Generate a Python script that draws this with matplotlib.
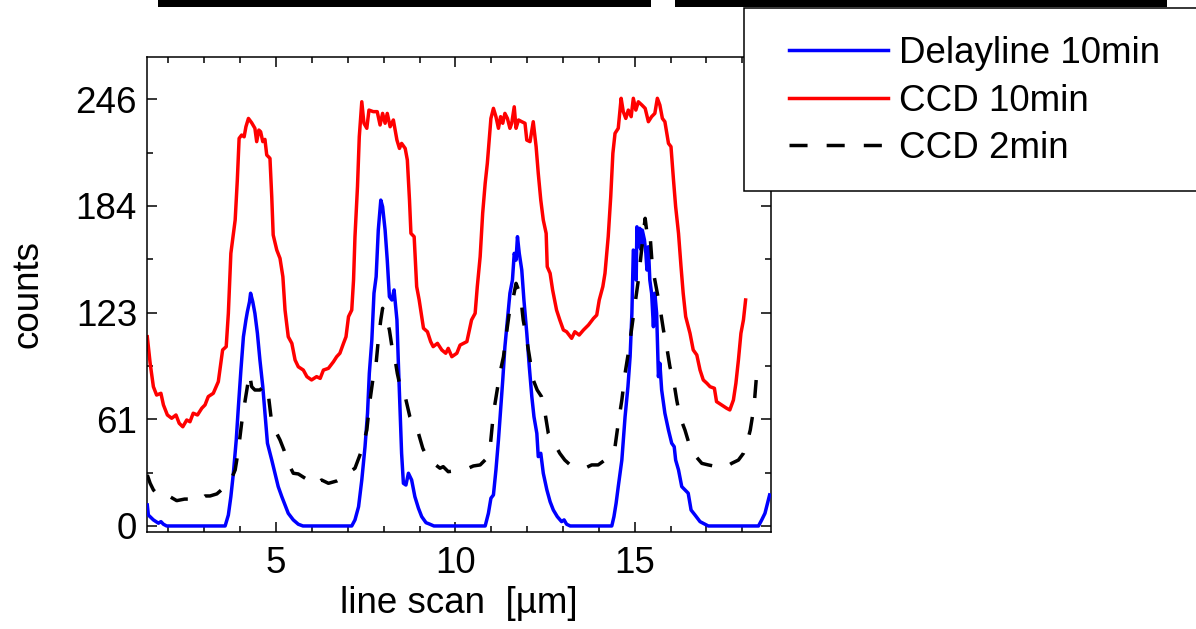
import matplotlib
matplotlib.use('Agg')
import matplotlib.pyplot as plt
from matplotlib.patches import Rectangle
from matplotlib.ticker import FixedLocator, FixedFormatter, MultipleLocator


# line scan position [um] and counts
red_x = [1.41, 1.49, 1.58, 1.67, 1.79, 1.86, 1.97, 2.09, 2.21, 2.30, 2.40, 2.51, 2.60, 2.69, 2.81,
         2.93, 3.02, 3.11, 3.25, 3.39, 3.51, 3.61, 3.67, 3.74, 3.86, 3.92, 3.97, 4.04, 4.11, 4.16,
         4.23, 4.32, 4.41, 4.46, 4.52, 4.57, 4.63, 4.69, 4.74, 4.83, 4.88, 4.92, 5.02, 5.11, 5.19,
         5.25, 5.34, 5.44, 5.53, 5.62, 5.76, 5.86, 5.99, 6.13, 6.23, 6.32, 6.46, 6.60, 6.69, 6.78,
         6.88, 6.95, 7.02, 7.11, 7.16, 7.20, 7.27, 7.32, 7.39, 7.45, 7.53, 7.59, 7.71, 7.82, 7.90,
         7.97, 8.04, 8.10, 8.18, 8.27, 8.37, 8.44, 8.50, 8.60, 8.66, 8.72, 8.76, 8.85, 8.92, 8.99,
         9.11, 9.22, 9.31, 9.38, 9.50, 9.62, 9.73, 9.80, 9.90, 10.04, 10.13, 10.32, 10.39, 10.45,
         10.55, 10.61, 10.69, 10.76, 10.83, 10.89, 10.95, 10.99, 11.06, 11.13, 11.20, 11.26, 11.32,
         11.38, 11.45, 11.52, 11.57, 11.64, 11.69, 11.76, 11.85, 11.94, 11.99, 12.08, 12.17, 12.25,
         12.31, 12.38, 12.45, 12.53, 12.56, 12.64, 12.71, 12.82, 12.91, 13.01, 13.10, 13.24, 13.33,
         13.45, 13.57, 13.71, 13.85, 13.94, 14.01, 14.11, 14.17, 14.26, 14.33, 14.39, 14.45, 14.54,
         14.62, 14.68, 14.75, 14.82, 14.90, 14.96, 15.03, 15.10, 15.20, 15.29, 15.38, 15.47, 15.56,
         15.63, 15.70, 15.77, 15.84, 15.94, 16.01, 16.08, 16.14, 16.22, 16.29, 16.35, 16.42, 16.54,
         16.63, 16.73, 16.82, 16.91, 17.01, 17.10, 17.22, 17.28, 17.42, 17.56, 17.65, 17.75, 17.82,
         17.89, 17.96, 18.03, 18.09]
red_y = [109.1, 93.8, 80.3, 75.5, 76.5, 69.8, 64.0, 62.1, 64.0, 59.2, 57.2, 61.1, 60.1, 65.0, 64.0,
         67.9, 69.8, 74.6, 76.5, 83.2, 101.5, 103.4, 122.6, 157.2, 176.4, 199.5, 223.5, 225.4, 224.4,
         230.2, 235.0, 232.5, 229.3, 221.6, 228.3, 227.3, 221.6, 222.9, 213.9, 212.0, 189.8, 167.8,
         159.1, 154.3, 143.7, 124.5, 109.1, 105.3, 95.7, 91.8, 89.9, 86.1, 84.2, 86.1, 85.1, 89.9,
         90.9, 94.7, 97.6, 99.6, 105.3, 109.1, 120.7, 124.5, 141.8, 166.8, 195.6, 224.4, 244.6,
         232.2, 229.3, 239.8, 238.9, 238.9, 231.2, 237.9, 232.2, 237.9, 230.2, 234.1, 222.5, 217.7,
         220.6, 217.7, 211.0, 187.9, 168.7, 166.8, 138.0, 130.3, 114.0, 112.0, 106.3, 103.4, 105.3,
         101.5, 99.6, 102.4, 97.6, 99.6, 104.3, 106.3, 113.0, 118.8, 122.6, 138.0, 155.3, 180.3,
         197.6, 209.1, 224.4, 235.0, 240.8, 236.0, 229.3, 236.0, 232.2, 237.9, 235.0, 229.3, 232.2,
         241.7, 229.3, 234.1, 233.1, 232.2, 222.5, 221.6, 233.1, 218.7, 203.3, 187.9, 176.4, 168.7,
         149.5, 145.7, 136.1, 124.5, 118.8, 113.0, 112.0, 108.2, 112.0, 110.1, 113.0, 115.9, 119.7,
         121.6, 130.3, 138.0, 145.7, 166.8, 189.8, 214.9, 226.4, 229.3, 246.6, 238.9, 235.0, 239.8,
         236.0, 246.6, 239.8, 244.6, 242.7, 240.8, 233.1, 236.0, 237.9, 246.6, 242.7, 235.0, 233.1,
         220.6, 218.7, 199.5, 184.1, 168.7, 149.5, 134.2, 120.7, 111.1, 101.5, 98.6, 89.9, 84.2,
         82.3, 80.3, 79.4, 71.7, 69.8, 67.9, 66.9, 72.6, 82.3, 95.7, 111.1, 118.8, 130.3]

blue_x = [1.41, 1.44, 1.58, 1.72, 1.79, 1.86, 1.95, 3.58, 3.67, 3.74, 3.81, 3.89, 3.95, 4.02, 4.09,
          4.16, 4.20, 4.26, 4.29, 4.35, 4.41, 4.48, 4.55, 4.63, 4.69, 4.76, 4.88, 4.97, 5.06, 5.16,
          5.25, 5.34, 5.48, 5.62, 5.75, 7.11, 7.20, 7.30, 7.39, 7.48, 7.55, 7.60, 7.67, 7.73, 7.79,
          7.85, 7.92, 7.97, 8.04, 8.10, 8.16, 8.23, 8.29, 8.37, 8.41, 8.46, 8.50, 8.55, 8.62, 8.69,
          8.78, 8.87, 8.97, 9.06, 9.18, 9.29, 9.40, 10.83, 10.92, 10.99, 11.06, 11.13, 11.20, 11.26,
          11.32, 11.38, 11.45, 11.52, 11.59, 11.64, 11.69, 11.73, 11.78, 11.85, 11.91, 11.99, 12.06,
          12.13, 12.19, 12.27, 12.31, 12.38, 12.45, 12.55, 12.64, 12.73, 12.84, 12.96, 13.03, 13.10,
          13.20, 14.36, 14.42, 14.48, 14.54, 14.64, 14.73, 14.81, 14.87, 14.92, 14.96, 15.01, 15.04,
          15.06, 15.10, 15.14, 15.18, 15.21, 15.27, 15.31, 15.34, 15.38, 15.42, 15.47, 15.52, 15.56,
          15.61, 15.66, 15.70, 15.75, 15.84, 15.94, 16.03, 16.10, 16.14, 16.22, 16.31, 16.40, 16.49,
          16.57, 16.68, 16.82, 16.96, 17.05, 18.45, 18.54, 18.63, 18.70, 18.76]
blue_y = [12.1, 6.3, 3.5, 1.6, 2.5, 1.0, 0, 0, 6.3, 16.9, 30.4, 49.6, 68.8, 89.9, 109.1,
          118.8, 123.5, 129.3, 134.2, 129.3, 122.6, 111.1, 95.7, 80.3, 65.0, 47.7, 38.0, 30.4, 22.7,
          16.9, 12.1, 7.3, 3.5, 1.0, 0, 0, 3.5, 11.1, 26.5, 45.7, 65.0, 88.0, 107.2, 134.2, 143.7,
          170.6, 187.9, 184.1, 170.6, 153.3, 132.2, 130.3, 136.1, 118.8, 93.8, 65.0, 41.9, 24.6, 23.6,
          30.4, 26.5, 16.9, 10.2, 5.4, 1.9, 1.0, 0, 0, 7.3, 16.0, 17.9, 32.3, 49.6, 66.9,
          84.2, 103.4, 118.8, 134.2, 141.8, 157.2, 153.3, 166.8, 157.2, 147.6, 130.3, 111.1, 91.8,
          74.6, 63.0, 53.4, 40.0, 41.9, 30.4, 20.8, 14.0, 9.2, 5.4, 2.5, 3.5, 1.0,
          0, 0, 5.4, 13.1, 22.7, 38.0, 63.0, 80.3, 97.6, 122.6, 159.1, 157.2, 141.8,
          172.5, 161.0, 171.6, 159.1, 170.6, 164.9, 157.2, 147.6, 161.0, 141.8, 134.2, 114.9, 134.2,
          122.6, 86.1, 93.8, 78.4, 65.0, 55.3, 47.7, 45.7, 38.0, 32.3, 22.7, 20.8, 18.9,
          9.2, 6.3, 2.5, 1.0, 0, 0, 3.5, 7.3, 13.1, 17.9]

black_x = [1.41, 1.49, 1.58, 1.72, 1.86, 2.04, 2.23, 2.45, 2.60, 2.74, 2.88, 3.02, 3.16, 3.35, 3.58,
           3.72, 3.86, 3.95, 4.04, 4.11, 4.20, 4.26, 4.32, 4.41, 4.55, 4.69, 4.78, 4.88, 4.97, 5.11,
           5.22, 5.34, 5.48, 5.62, 5.85, 6.09, 6.27, 6.46, 6.70, 6.92, 7.06, 7.20, 7.39, 7.53, 7.62,
           7.71, 7.79, 7.85, 7.92, 7.97, 8.04, 8.10, 8.16, 8.23, 8.32, 8.38, 8.44, 8.50, 8.60, 8.73,
           8.87, 8.97, 9.09, 9.20, 9.40, 9.57, 9.66, 9.80, 10.05, 10.36, 10.50, 10.69, 10.85, 10.97,
           11.06, 11.15, 11.24, 11.34, 11.41, 11.50, 11.60, 11.69, 11.76, 11.83, 11.89, 11.99, 12.08,
           12.17, 12.28, 12.40, 12.50, 12.59, 12.73, 12.91, 13.05, 13.20, 13.40, 13.66, 13.80, 13.98,
           14.20, 14.36, 14.45, 14.54, 14.64, 14.73, 14.82, 14.92, 15.01, 15.10, 15.18, 15.24, 15.29,
           15.33, 15.38, 15.43, 15.49, 15.56, 15.63, 15.70, 15.80, 15.89, 15.98, 16.08, 16.17, 16.26,
           16.40, 16.51, 16.63, 16.87, 17.05, 17.19, 17.40, 17.56, 17.70, 17.89, 18.03, 18.15, 18.22,
           18.28, 18.34, 18.40]
black_y = [29.4, 24.6, 20.8, 17.5, 16.0, 16.9, 14.6, 15.5, 15.5, 16.5, 15.0, 17.3, 17.3, 18.5, 22.7,
           25.5, 32.3, 43.8, 59.2, 68.8, 80.3, 88.0, 80.3, 78.4, 78.4, 81.3, 76.5, 59.2, 55.3, 49.6,
           43.8, 36.1, 30.4, 30.0, 27.0, 23.6, 26.5, 24.6, 26.0, 28.4, 31.3, 33.3, 43.8, 55.3, 72.6,
           86.1, 93.8, 107.2, 118.8, 125.5, 122.6, 117.8, 113.0, 103.4, 95.7, 88.0, 82.3, 78.4, 74.6,
           63.0, 57.2, 53.4, 44.8, 40.0, 36.0, 33.3, 34.2, 31.3, 32.0, 33.3, 34.6, 35.2, 38.5, 45.7,
           65.0, 76.5, 88.0, 97.6, 109.1, 122.6, 130.3, 139.9, 136.1, 130.3, 118.8, 107.2, 95.7,
           84.2, 78.4, 74.6, 65.0, 53.4, 48.6, 41.9, 38.0, 35.2, 33.5, 33.8, 35.2, 35.2,
           38.5, 43.8, 45.7, 59.2, 72.6, 88.0, 99.6, 114.9, 128.4, 141.8, 157.2, 168.7, 177.4,
           170.6, 164.9, 166.8, 149.5, 141.8, 134.2, 126.4, 113.0, 103.4, 91.8, 84.2, 72.6, 63.0,
           55.3, 47.7, 41.9, 36.1, 35.2, 34.6, 33.5, 34.2, 36.1, 38.0, 41.9, 49.6, 55.3,
           63.0, 72.6, 88.0]

series_labels = ['Delayline 10min', 'CCD 10min', 'CCD 2min']
y_tick_values = [0, 61.5, 123, 184.5, 246]
y_tick_labels = ['0', '61', '123', '184', '246']
x_tick_values = [5, 10, 15]


def plot_results():
    plt.rcParams['font.family'] = ['Liberation Sans', 'DejaVu Sans']
    fs = 26.5

    fig = plt.figure(figsize=(11.96, 6.29), dpi=100)
    ax = fig.add_axes([0.1227, 0.1547, 0.5217, 0.7552])

    lw = 2.5
    blue, = ax.plot(blue_x, blue_y, color='#0000ff', lw=lw, label=series_labels[0], zorder=3)
    red, = ax.plot(red_x, red_y, color='#ff0000', lw=lw, label=series_labels[1], zorder=2)
    black, = ax.plot(black_x, black_y, color='black', lw=lw, linestyle=(0, (5.2, 5.5)),
                     label=series_labels[2], zorder=4)

    ax.set_xlim(1.395, 18.79)
    ax.set_ylim(-3.3, 270.6)

    ax.xaxis.set_major_locator(FixedLocator(x_tick_values))
    ax.xaxis.set_minor_locator(MultipleLocator(1))
    ax.yaxis.set_major_locator(FixedLocator(y_tick_values))
    ax.yaxis.set_major_formatter(FixedFormatter(y_tick_labels))
    ax.yaxis.set_minor_locator(MultipleLocator(30.75))

    ax.tick_params(which='both', direction='in', top=True, right=True, width=1.1)
    ax.tick_params(which='major', length=7, labelsize=fs)
    ax.tick_params(which='minor', length=4)
    ax.tick_params(axis='x', pad=10)
    ax.tick_params(axis='y', pad=7)
    for spine in ax.spines.values():
        spine.set_linewidth(1.1)

    ax.set_xlabel('line scan  [µm]', fontsize=fs, labelpad=4)
    ax.set_ylabel('counts', fontsize=fs)
    ax.yaxis.set_label_coords(-0.163, 0.5)

    # black bars along the top edge
    for x0, w in [(0.1321, 0.4122), (0.5644, 0.4114)]:
        fig.patches.append(Rectangle((x0, 0.9889), w, 0.0111, transform=fig.transFigure,
                                     facecolor='black', edgecolor='none'))

    # legend box, running off the right edge
    fig.patches.append(Rectangle((0.6221, 0.6963), 0.381, 0.2909, transform=fig.transFigure,
                                 facecolor='white', edgecolor='black', linewidth=1.1,
                                 zorder=3))
    leg = fig.legend(handles=[blue, red, black], loc='center left',
                     bbox_to_anchor=(0.6597, 0.8394), frameon=False, fontsize=fs,
                     borderpad=0, borderaxespad=0, handlelength=2.7, handletextpad=0.28,
                     labelspacing=0.33)
    leg.set_zorder(5)

    fig.savefig('out.png', dpi=100)


def main():
    plot_results()


if __name__ == '__main__':
    main()
